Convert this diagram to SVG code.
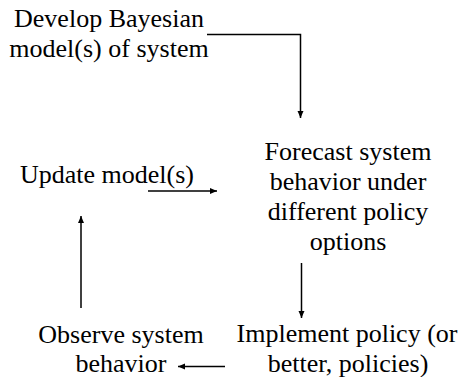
<svg xmlns="http://www.w3.org/2000/svg" width="461" height="377" viewBox="0 0 461 377">
<style>
text{font-family:"Liberation Serif","Times New Roman",serif;font-size:26px;fill:#000;text-anchor:middle}
.c{fill:none;stroke:#000;stroke-width:1.5}
</style>
<defs>
<marker id="ah" markerWidth="8" markerHeight="8" refX="7" refY="4" orient="auto" markerUnits="userSpaceOnUse">
<path d="M0,1 L7,4 L0,7 Z" fill="#000"/>
</marker>
</defs>
<rect width="461" height="377" fill="#fff"/>
<g id="develop"><text x="109" y="27">Develop Bayesian</text><text x="109" y="57">model(s) of system</text></g>
<g id="forecast"><text x="348" y="160">Forecast system</text><text x="348" y="190">behavior under</text><text x="348" y="220">different policy</text><text x="348" y="250">options</text></g>
<g id="update"><text x="107" y="183">Update model(s)</text></g>
<g id="implement"><text x="347" y="342">Implement policy (or</text><text x="348" y="372">better, policies)</text></g>
<g id="observe"><text x="121" y="343">Observe system</text><text x="121" y="372">behavior</text></g>
<g id="connectors">
<path class="c" d="M207,34.5 H300.5 V118" marker-end="url(#ah)"/>
<path class="c" d="M148,191 H217" marker-end="url(#ah)"/>
<path class="c" d="M301.5,263 V318" marker-end="url(#ah)"/>
<path class="c" d="M225,366.5 H178" marker-end="url(#ah)"/>
<path class="c" d="M81,308 V216" marker-end="url(#ah)"/>
</g>
</svg>
